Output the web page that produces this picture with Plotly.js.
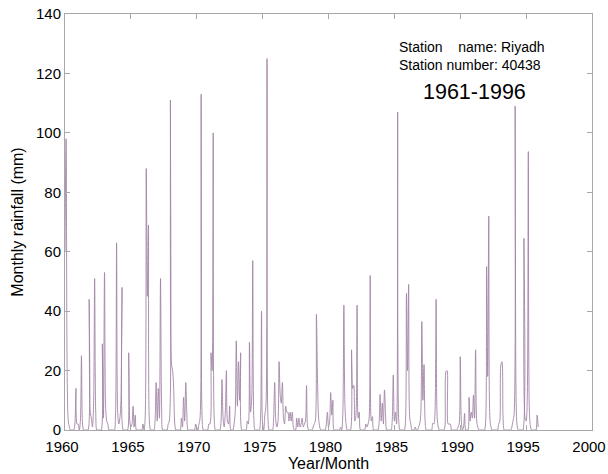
<!DOCTYPE html>
<html>
<head>
<meta charset="utf-8">
<script src="https://cdn.plot.ly/plotly-3.0.1.min.js"></script>
<style>
  html, body { margin: 0; padding: 0; background: #ffffff; }
  #chart { width: 608px; height: 474px; }
</style>
</head>
<body>
<div id="chart"></div>
<script>
// Monthly rainfall at Riyadh (mm), one row per year, Jan..Dec
const firstYear = 1960;

const rain1960s = [
  [60, 98, 18, 3, 1, 0, 0, 0, 0, 2, 14, 2],      // 1960
  [2, 0, 3, 25, 2, 0, 0, 0, 0, 0, 44, 6],        // 1961
  [4, 1, 8, 51, 6, 0, 0, 0, 0, 0, 29, 4],        // 1962
  [53, 8, 3, 2, 0, 0, 0, 0, 0, 0, 5, 63],        // 1963
  [6, 2, 4, 10, 48, 0, 0, 0, 0, 0, 26, 3],       // 1964
  [1, 2, 8, 1, 5, 0, 0, 0, 0, 0, 0, 2],          // 1965
  [0, 4, 88, 45, 69, 2, 0, 0, 0, 0, 3, 16],      // 1966
  [3, 14, 4, 51, 8, 0, 0, 0, 0, 0, 2, 3],        // 1967
  [111, 22, 20, 14, 2, 0, 0, 0, 0, 0, 4, 1],     // 1968
  [11, 3, 16, 5, 0, 0, 0, 0, 0, 0, 0, 2]         // 1969
];

const rain1970s = [
  [1, 0, 2, 4, 113, 3, 0, 0, 0, 0, 0, 2],        // 1970
  [2, 26, 20, 100, 3, 0, 0, 0, 0, 0, 2, 17],     // 1971
  [4, 1, 6, 20, 3, 2, 8, 0, 0, 0, 2, 6],         // 1972
  [30, 8, 23, 10, 26, 0, 0, 0, 0, 0, 3, 2],      // 1973
  [29.5, 6, 10, 57, 4, 0, 0, 0, 0, 0, 3, 40],    // 1974
  [2, 0, 5, 8, 125, 3, 0, 0, 0, 0, 4, 16],       // 1975
  [3, 1, 3, 23, 12, 9, 16, 4, 2, 8, 6, 6],       // 1976
  [3, 6, 3, 6, 1, 0, 0, 4, 1, 4, 1, 2],          // 1977
  [4, 1, 2, 3, 15, 1, 0, 0, 0, 0, 1, 2],         // 1978
  [3, 39, 17, 4, 1, 0, 0, 0, 0, 0, 2, 6]         // 1979
];

const rain1980s = [
  [1, 3, 12.6, 5, 10, 0, 0, 0, 0, 0, 0, 1],      // 1980
  [0, 5, 42, 8, 2, 0, 0, 0, 0, 27, 14, 15],      // 1981
  [3, 5, 42, 4, 6, 0, 0, 0, 0, 0, 2, 1],         // 1982
  [2, 4, 52, 3, 4.5, 0, 0, 0, 0, 0, 2, 12],      // 1983
  [3, 9, 2, 13.5, 5, 0, 0, 0, 0, 0, 3, 18.5],    // 1984
  [3, 6, 2, 107, 3, 0, 0, 0, 0, 0, 2, 46],       // 1985
  [20, 49, 4, 2, 0, 0, 0, 1, 0, 0, 1, 2],        // 1986
  [5, 36.5, 10, 22, 3, 0, 0, 0, 0, 0, 0, 2.3],   // 1987
  [2, 6, 44, 4, 1, 0, 0, 0, 0, 0, 1, 19.6],      // 1988
  [20, 2, 2, 2, 0, 0, 0, 0, 0, 0, 1, 2]          // 1989
];

const rain1990s = [
  [24.7, 3, 0, 1, 5.6, 0, 0, 0, 11, 3, 6, 4],    // 1990
  [11.7, 4, 27, 3, 1, 0, 0, 0, 0, 0, 0, 2],      // 1991
  [55, 18, 72, 4, 1, 0, 0, 0, 0, 0, 0, 2],       // 1992
  [3, 22, 23, 4, 0, 0, 0, 0, 0, 0, 0, 1],        // 1993
  [3, 5, 109, 8, 1, 0, 0, 0, 0, 0, 64.5, 4],     // 1994
  [3, 10, 93.7, 6, 1, 0, 0, 0, 0, 0, 5, 1]       // 1995
];

const xTicks = [1960, 1965, 1970, 1975, 1980, 1985, 1990, 1995, 2000];
const yTicks = [0, 20, 40, 60, 80, 100, 120, 140];

const stationName = 'Station\u00a0\u00a0\u00a0\u00a0name: Riyadh';
const stationNumber = 'Station number: 40438';
const periodLabel = '1961-1996';

// Flatten the yearly rows into a decimal-year time series
const xs = [];
const ys = [];
[rain1960s, rain1970s, rain1980s, rain1990s].forEach(function (rows, d) {
  rows.forEach(function (months, i) {
    const year = firstYear + d * 10 + i;
    months.forEach(function (v, m) {
      xs.push(year + m / 12);
      ys.push(v);
    });
  });
});

const font = 'Liberation Sans, Arial, Helvetica, sans-serif';
const frame = '#a8a8a8';

const trace = {
  type: 'scatter',
  mode: 'lines',
  x: xs,
  y: ys,
  line: { color: '#a184a6', width: 0.9, shape: 'spline', smoothing: 0.9 },
  hoverinfo: 'x+y'
};

const axisCommon = {
  showgrid: false,
  zeroline: false,
  showline: true,
  linecolor: frame,
  linewidth: 1,
  mirror: 'ticks',
  ticks: 'inside',
  ticklen: 5,
  tickcolor: frame,
  tickwidth: 1,
  ticklabeloverflow: 'allow',
  tickfont: { family: font, size: 15, color: '#000000' }
};

const layout = {
  width: 608,
  height: 474,
  paper_bgcolor: '#ffffff',
  plot_bgcolor: '#ffffff',
  showlegend: false,
  margin: { l: 65, r: 16, t: 14, b: 44, pad: 0 },
  font: { family: font, color: '#000000' },
  xaxis: Object.assign({}, axisCommon, {
    range: [1960, 2000],
    tickmode: 'array',
    tickvals: xTicks,
    ticktext: xTicks.map(String),
    ticklabelshift: -3,
    ticklabelstandoff: 3,
    automargin: false,
    title: { text: 'Year/Month', font: { family: font, size: 16, color: '#000000' }, standoff: 3 }
  }),
  yaxis: Object.assign({}, axisCommon, {
    range: [0, 140],
    tickmode: 'array',
    tickvals: yTicks,
    ticktext: yTicks.map(String),
    automargin: false,
    title: { text: 'Monthly rainfall (mm)', font: { family: font, size: 16, color: '#000000' }, standoff: 8 }
  }),
  annotations: [
    {
      xref: 'paper', yref: 'paper', x: 0.630, y: 0.9214,
      xanchor: 'left', yanchor: 'middle', showarrow: false,
      text: stationName, font: { family: font, size: 14, color: '#000000' }
    },
    {
      xref: 'paper', yref: 'paper', x: 0.630, y: 0.8774,
      xanchor: 'left', yanchor: 'middle', showarrow: false,
      text: stationNumber, font: { family: font, size: 14, color: '#000000' }
    },
    {
      xref: 'paper', yref: 'paper', x: 0.6755, y: 0.8132,
      xanchor: 'left', yanchor: 'middle', showarrow: false,
      text: periodLabel, font: { family: font, size: 21.5, color: '#000000' }
    }
  ]
};

Plotly.newPlot('chart', [trace], layout, { displayModeBar: false, staticPlot: true });
</script>
</body>
</html>
